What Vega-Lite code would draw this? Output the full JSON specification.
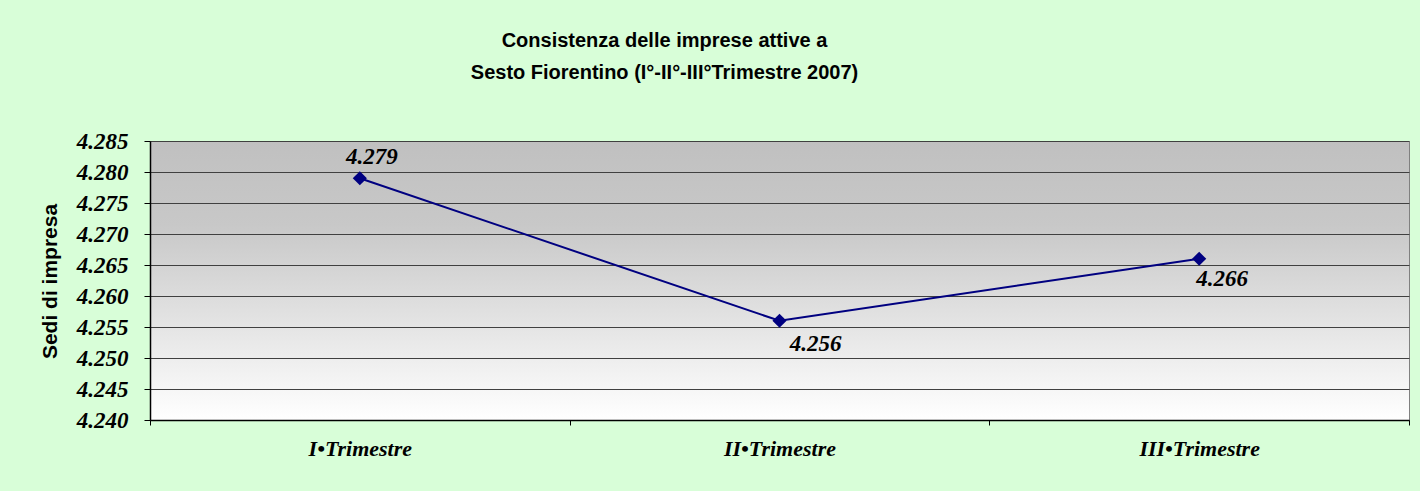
{
  "$schema": "https://vega.github.io/schema/vega-lite/v6.json",
  "autosize": {"type": "none"},
  "width": 1259,
  "height": 279,
  "padding": {"left": 150, "top": 141, "right": 11, "bottom": 71},
  "background": "#d8fed8",
  "title": {
    "text": ["Consistenza delle imprese attive a", "Sesto Fiorentino (I°-II°-III°Trimestre 2007)"],
    "font": "Liberation Sans",
    "fontSize": 20,
    "fontWeight": "bold",
    "color": "#000000",
    "anchor": "middle",
    "dx": -115,
    "offset": 47,
    "lineHeight": 32
  },
  "config": {
    "view": {
      "stroke": "#808080",
      "strokeWidth": 1,
      "fill": {
        "gradient": "linear",
        "x1": 0, "y1": 0, "x2": 0, "y2": 1,
        "stops": [
          {"offset": 0, "color": "#c0c0c0"},
          {"offset": 0.3, "color": "#c8c8c8"},
          {"offset": 1, "color": "#ffffff"}
        ]
      }
    }
  },
  "data": {
    "values": [
      {"trimestre": "I•Trimestre", "sedi": 4.279},
      {"trimestre": "II•Trimestre", "sedi": 4.256},
      {"trimestre": "III•Trimestre", "sedi": 4.266}
    ]
  },
  "encoding": {
    "x": {
      "field": "trimestre",
      "type": "nominal",
      "sort": null,
      "scale": {"paddingInner": 0, "paddingOuter": 0},
      "axis": {
        "title": null,
        "labelAngle": 0,
        "labelFont": "Liberation Serif",
        "labelFontSize": 22,
        "labelFontStyle": "italic",
        "labelFontWeight": "bold",
        "labelColor": "#000000",
        "labelPadding": 13,
        "tickBand": "extent",
        "tickColor": "#000000",
        "tickSize": 5,
        "domainColor": "#000000",
        "domainWidth": 1.5
      }
    },
    "y": {
      "field": "sedi",
      "type": "quantitative",
      "scale": {"domain": [4.24, 4.285], "zero": false, "nice": false},
      "axis": {
        "title": "Sedi di impresa",
        "titleFont": "Liberation Sans",
        "titleFontSize": 21,
        "titleFontWeight": "bold",
        "titleColor": "#000000",
        "titleX": -100,
        "titleY": 140,
        "titleAlign": "center",
        "titleBaseline": "middle",
        "titleAngle": -90,
        "values": [4.24, 4.245, 4.25, 4.255, 4.26, 4.265, 4.27, 4.275, 4.28, 4.285],
        "format": ".3f",
        "labelFont": "Liberation Serif",
        "labelFontSize": 23,
        "labelFontStyle": "italic",
        "labelFontWeight": "bold",
        "labelColor": "#000000",
        "labelPadding": 16,
        "tickColor": "#000000",
        "tickSize": 6,
        "domainColor": "#000000",
        "domainWidth": 1.5,
        "grid": true,
        "gridColor": "#404040",
        "gridWidth": 1
      }
    }
  },
  "layer": [
    {
      "mark": {"type": "line", "color": "#000080", "strokeWidth": 2,
        "point": {"shape": "diamond", "size": 200, "filled": true, "color": "#000080"}}
    },
    {
      "transform": [{"filter": "datum.trimestre == 'I•Trimestre'"}],
      "mark": {"type": "text", "font": "Liberation Serif", "fontSize": 23, "fontStyle": "italic", "fontWeight": "bold", "color": "#000000", "dx": 12, "dy": -21},
      "encoding": {"text": {"field": "sedi", "type": "quantitative", "format": ".3f"}}
    },
    {
      "transform": [{"filter": "datum.trimestre == 'II•Trimestre'"}],
      "mark": {"type": "text", "font": "Liberation Serif", "fontSize": 23, "fontStyle": "italic", "fontWeight": "bold", "color": "#000000", "dx": 36, "dy": 23},
      "encoding": {"text": {"field": "sedi", "type": "quantitative", "format": ".3f"}}
    },
    {
      "transform": [{"filter": "datum.trimestre == 'III•Trimestre'"}],
      "mark": {"type": "text", "font": "Liberation Serif", "fontSize": 23, "fontStyle": "italic", "fontWeight": "bold", "color": "#000000", "dx": 23, "dy": 20},
      "encoding": {"text": {"field": "sedi", "type": "quantitative", "format": ".3f"}}
    }
  ]
}
